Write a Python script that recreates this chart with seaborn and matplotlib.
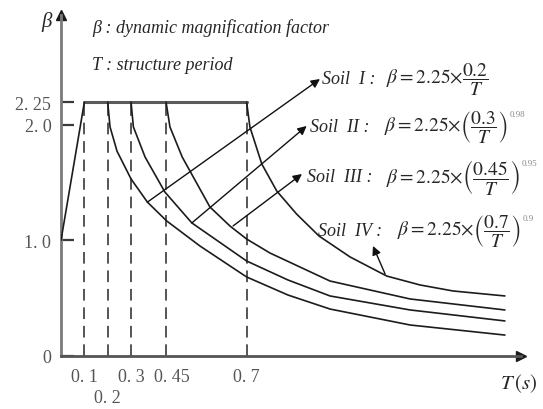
import numpy as np
import pandas as pd
import matplotlib
matplotlib.use("Agg")
import matplotlib.pyplot as plt
import matplotlib.transforms as mtransforms
import seaborn as sns

# ---- data -------------------------------------------------------------
# characteristic periods (s) marked on the T axis
period_ticks = [0.1, 0.2, 0.3, 0.45, 0.7]
period_labels = ["0. 1", "0. 2", "0. 3", "0. 45", "0. 7"]

beta_ticks = [0, 1.0, 2.0, 2.25]
beta_labels = ["0", "1. 0", "2. 0", "2. 25"]

# rising branch and plateau of the spectrum
env_T = [0.0, 0.1, 0.7]
env_beta = [1.0, 2.25, 2.25]

# descending branches for the four site classes
soil_I_T = [0.2, 0.21, 0.24, 0.30, 0.37, 0.452, 0.555, 0.70, 0.877, 1.057, 1.40, 1.806]
soil_I_beta = [2.25, 1.98, 1.77, 1.53, 1.33, 1.167, 0.951, 0.683, 0.527, 0.406, 0.268, 0.181]

soil_II_T = [0.3, 0.31, 0.36, 0.445, 0.53, 0.70, 0.877, 1.057, 1.40, 1.806]
soil_II_beta = [2.25, 1.98, 1.72, 1.417, 1.15, 0.821, 0.657, 0.519, 0.398, 0.303]

soil_III_T = [0.45, 0.462, 0.50, 0.586, 0.648, 0.70, 0.80, 1.057, 1.40, 1.806]
soil_III_beta = [2.25, 1.98, 1.72, 1.288, 1.124, 1.011, 0.89, 0.648, 0.493, 0.398]

soil_IV_T = [0.7, 0.714, 0.765, 0.829, 0.914, 1.010, 1.143, 1.30, 1.4425, 1.584, 1.806]
soil_IV_beta = [2.25, 1.98, 1.659, 1.426, 1.227, 1.037, 0.856, 0.691, 0.614, 0.562, 0.519]

# pointer arrows: (start on curve) -> (tip at label)
arrow_start = [(0.37, 1.33), (0.53, 1.15), (0.658, 1.124), (1.293, 0.709)]
arrow_tip = [(1.014, 2.451), (0.957, 1.988), (0.937, 1.573), (1.241, 0.951)]

# formula annotations
soil_names = ["Soil  I :", "Soil  II :", "Soil  III :", "Soil  IV :"]
soil_Tg = ["0.2", "0.3", "0.45", "0.7"]
soil_gamma = ["", "0.98", "0.95", "0.9"]

# ---- schematic (piecewise linear) axis scales --------------------------
TX = [-10, 0, 0.45, 0.7, 10]
UX = [-10, 0, 0.45, 0.795, 10.095]
BY = [-10, 0, 2.0, 2.25, 10]
VY = [-10, 0, 2.0, 2.193, 9.943]


def fwd_x(t):
    return np.interp(t, TX, UX)


def inv_x(u):
    return np.interp(u, UX, TX)


def fwd_y(b):
    return np.interp(b, BY, VY)


def inv_y(v):
    return np.interp(v, VY, BY)


# ---- figure -----------------------------------------------------------
sns.set_theme(style="white")
plt.rcParams["font.family"] = ["Liberation Serif", "DejaVu Serif"]
plt.rcParams["mathtext.fontset"] = "stix"

W, H = 543, 410
fig = plt.figure(figsize=(W / 100, H / 100), dpi=100)
ax = fig.add_axes([61 / W, 53 / H, (521 - 61) / W, (357 - 16) / H])
ax.set_xscale("function", functions=(fwd_x, inv_x))
ax.set_yscale("function", functions=(fwd_y, inv_y))
ax.set_xlim(0, inv_x((521 - 61) / 233.5))
ax.set_ylim(0, inv_y((357 - 16) / 115.7))

curves = pd.concat([
    pd.DataFrame({"T": soil_I_T, "beta": soil_I_beta, "soil": "I"}),
    pd.DataFrame({"T": soil_II_T, "beta": soil_II_beta, "soil": "II"}),
    pd.DataFrame({"T": soil_III_T, "beta": soil_III_beta, "soil": "III"}),
    pd.DataFrame({"T": soil_IV_T, "beta": soil_IV_beta, "soil": "IV"}),
    pd.DataFrame({"T": env_T[:2], "beta": env_beta[:2], "soil": "ramp"}),
], ignore_index=True)

# dashed guides from the plateau down to the axis
ax.vlines(period_ticks, 0, 2.25, colors="#555555", linestyles=(0, (6, 3.5)),
          linewidth=1.4, zorder=1)

sns.lineplot(data=curves, x="T", y="beta", hue="soil", sort=False,
             estimator=None, legend=False, linewidth=1.2,
             palette={k: "#1c1c1c" for k in ["I", "II", "III", "IV", "ramp"]},
             ax=ax, zorder=3)
sns.lineplot(x=env_T[1:], y=env_beta[1:], color="#5a5a5a", linewidth=2.2,
             ax=ax, zorder=2)

for (x0, y0), (x1, y1) in zip(arrow_start, arrow_tip):
    ax.annotate("", xy=(x1, y1), xytext=(x0, y0),
                arrowprops=dict(arrowstyle="-|>", color="#111111", lw=1.0,
                                mutation_scale=13, shrinkA=0, shrinkB=0))

# axes with arrowheads
for side in ["top", "right"]:
    ax.spines[side].set_visible(False)
ax.spines["left"].set_color("#7a7a7a")
ax.spines["bottom"].set_color("#555555")
ax.spines["left"].set_linewidth(2)
ax.spines["bottom"].set_linewidth(2)
ax.plot(1, 0, ">", color="k", ms=7, transform=ax.get_yaxis_transform(), clip_on=False)
ax.plot(0, 1, "^", color="k", ms=7, transform=ax.get_xaxis_transform(), clip_on=False)

ax.set_yticks(beta_ticks)
ax.set_yticklabels(beta_labels)
ax.set_xticks(period_ticks)
ax.set_xticklabels(period_labels)
ax.tick_params(axis="y", direction="in", length=9, width=1.6, color="#3a3a3a",
               labelcolor="#555555", labelsize=13, pad=7, left=True)
ax.tick_params(axis="x", length=0, labelcolor="#555555", labelsize=13, pad=9)
ax.minorticks_off()
# label shifts: 0.45 nudged right, 0.2 on a second row
label_shift = {"0. 45": (6, 0), "0. 2": (0, -21)}
for lab in ax.get_xticklabels():
    if lab.get_text() in label_shift:
        dx, dy = label_shift[lab.get_text()]
        lab.set_transform(lab.get_transform() +
                          mtransforms.ScaledTranslation(dx / 100, dy / 100,
                                                        fig.dpi_scale_trans))
ax.set_xlabel("")
ax.set_ylabel("")


def ftext(x, y, s, **kw):
    return fig.text(x / W, 1 - y / H, s, **kw)


ftext(47, 22, "β", style="italic", fontsize=15, ha="center", va="center")
ftext(519, 384, r"$T\,(s)$", fontsize=15, ha="center", va="center")
ftext(92, 28, "β : dynamic magnification factor", style="italic", fontsize=13, va="center")
ftext(92, 66, "T : structure period", style="italic", fontsize=13, va="center")

name_xy = [(322, 80), (310, 128), (307, 178), (318, 232)]
eq_x = [386, 384, 386, 397]
eq_fs = 14
fig.canvas.draw()
renderer = fig.canvas.get_renderer()
for name, tg, gam, (nx, ny), ex in zip(soil_names, soil_Tg, soil_gamma, name_xy, eq_x):
    ftext(nx, ny, name, style="italic", fontsize=13, va="center")
    if gam:
        eq = r"$\beta = 2.25{\times}\left(\dfrac{%s}{T}\right)$" % tg
    else:
        eq = r"$\beta = 2.25{\times}\dfrac{%s}{T}$" % tg
    t = ftext(ex, ny, eq, fontsize=eq_fs, va="center")
    if gam:
        bb = t.get_window_extent(renderer)
        fig.text((bb.x1 + 2) / W, (bb.y1 - 5) / H, gam, fontsize=6.5,
                 color="#8a8a8a", va="center")

fig.savefig("out.png", dpi=100)
